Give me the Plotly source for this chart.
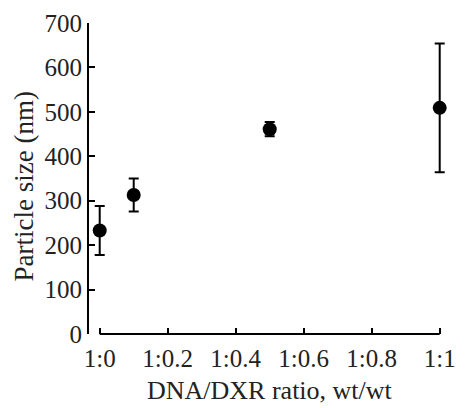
import plotly.graph_objects as go

ratio = [0.0, 0.1, 0.5, 1.0]
size_nm = [233, 313, 461, 509]
err_nm = [55, 37, 16, 145]
x_tickvals = [0, 0.2, 0.4, 0.6, 0.8, 1.0]
x_ticktext = ["1:0", "1:0.2", "1:0.4", "1:0.6", "1:0.8", "1:1"]
y_tickvals = [0, 100, 200, 300, 400, 500, 600, 700]
x_title = "DNA/DXR ratio, wt/wt"
y_title = "Particle size (nm)"

FONT = "Liberation Serif"
TXT = "#222"

fig = go.Figure(go.Scatter(
    x=ratio, y=size_nm, mode="markers",
    marker=dict(color="black", size=14),
    error_y=dict(type="data", array=err_nm, visible=True, color="black", thickness=2, width=5),
    cliponaxis=False,
))

# x axis line drawn only between the first and last tick (detached from the y axis)
fig.add_shape(type="line", xref="x", yref="paper",
              x0=x_tickvals[0], x1=x_tickvals[-1], y0=0, y1=0,
              line=dict(color="black", width=2))

# axis titles as annotations for precise placement
fig.add_annotation(text=x_title, xref="x", yref="paper", x=0.5, y=-0.182,
                   xanchor="center", yanchor="middle", showarrow=False,
                   font=dict(family=FONT, size=26, color=TXT))
fig.add_annotation(text=y_title, xref="paper", yref="paper", x=-0.1826, y=0.474,
                   xanchor="center", yanchor="middle", showarrow=False, textangle=-90,
                   font=dict(family=FONT, size=27, color=TXT))

fig.update_layout(
    width=466, height=408,
    margin=dict(l=89, r=10, t=21, b=74),
    paper_bgcolor="white", plot_bgcolor="white",
    showlegend=False,
    font=dict(family=FONT, size=25, color=TXT),
    xaxis=dict(
        range=[-0.0315, 1.0185],
        tickvals=x_tickvals, ticktext=x_ticktext,
        showline=False,
        ticks="inside", ticklen=6, tickwidth=2, tickcolor="black",
        ticklabelstandoff=7,
        tickfont=dict(size=25),
        showgrid=False, zeroline=False,
    ),
    yaxis=dict(
        range=[0, 700],
        tickvals=y_tickvals,
        showline=True, linecolor="black", linewidth=2,
        ticks="inside", ticklen=6, tickwidth=2, tickcolor="black",
        tickfont=dict(size=25),
        showgrid=False, zeroline=False,
    ),
)

fig.write_html("out.html")
